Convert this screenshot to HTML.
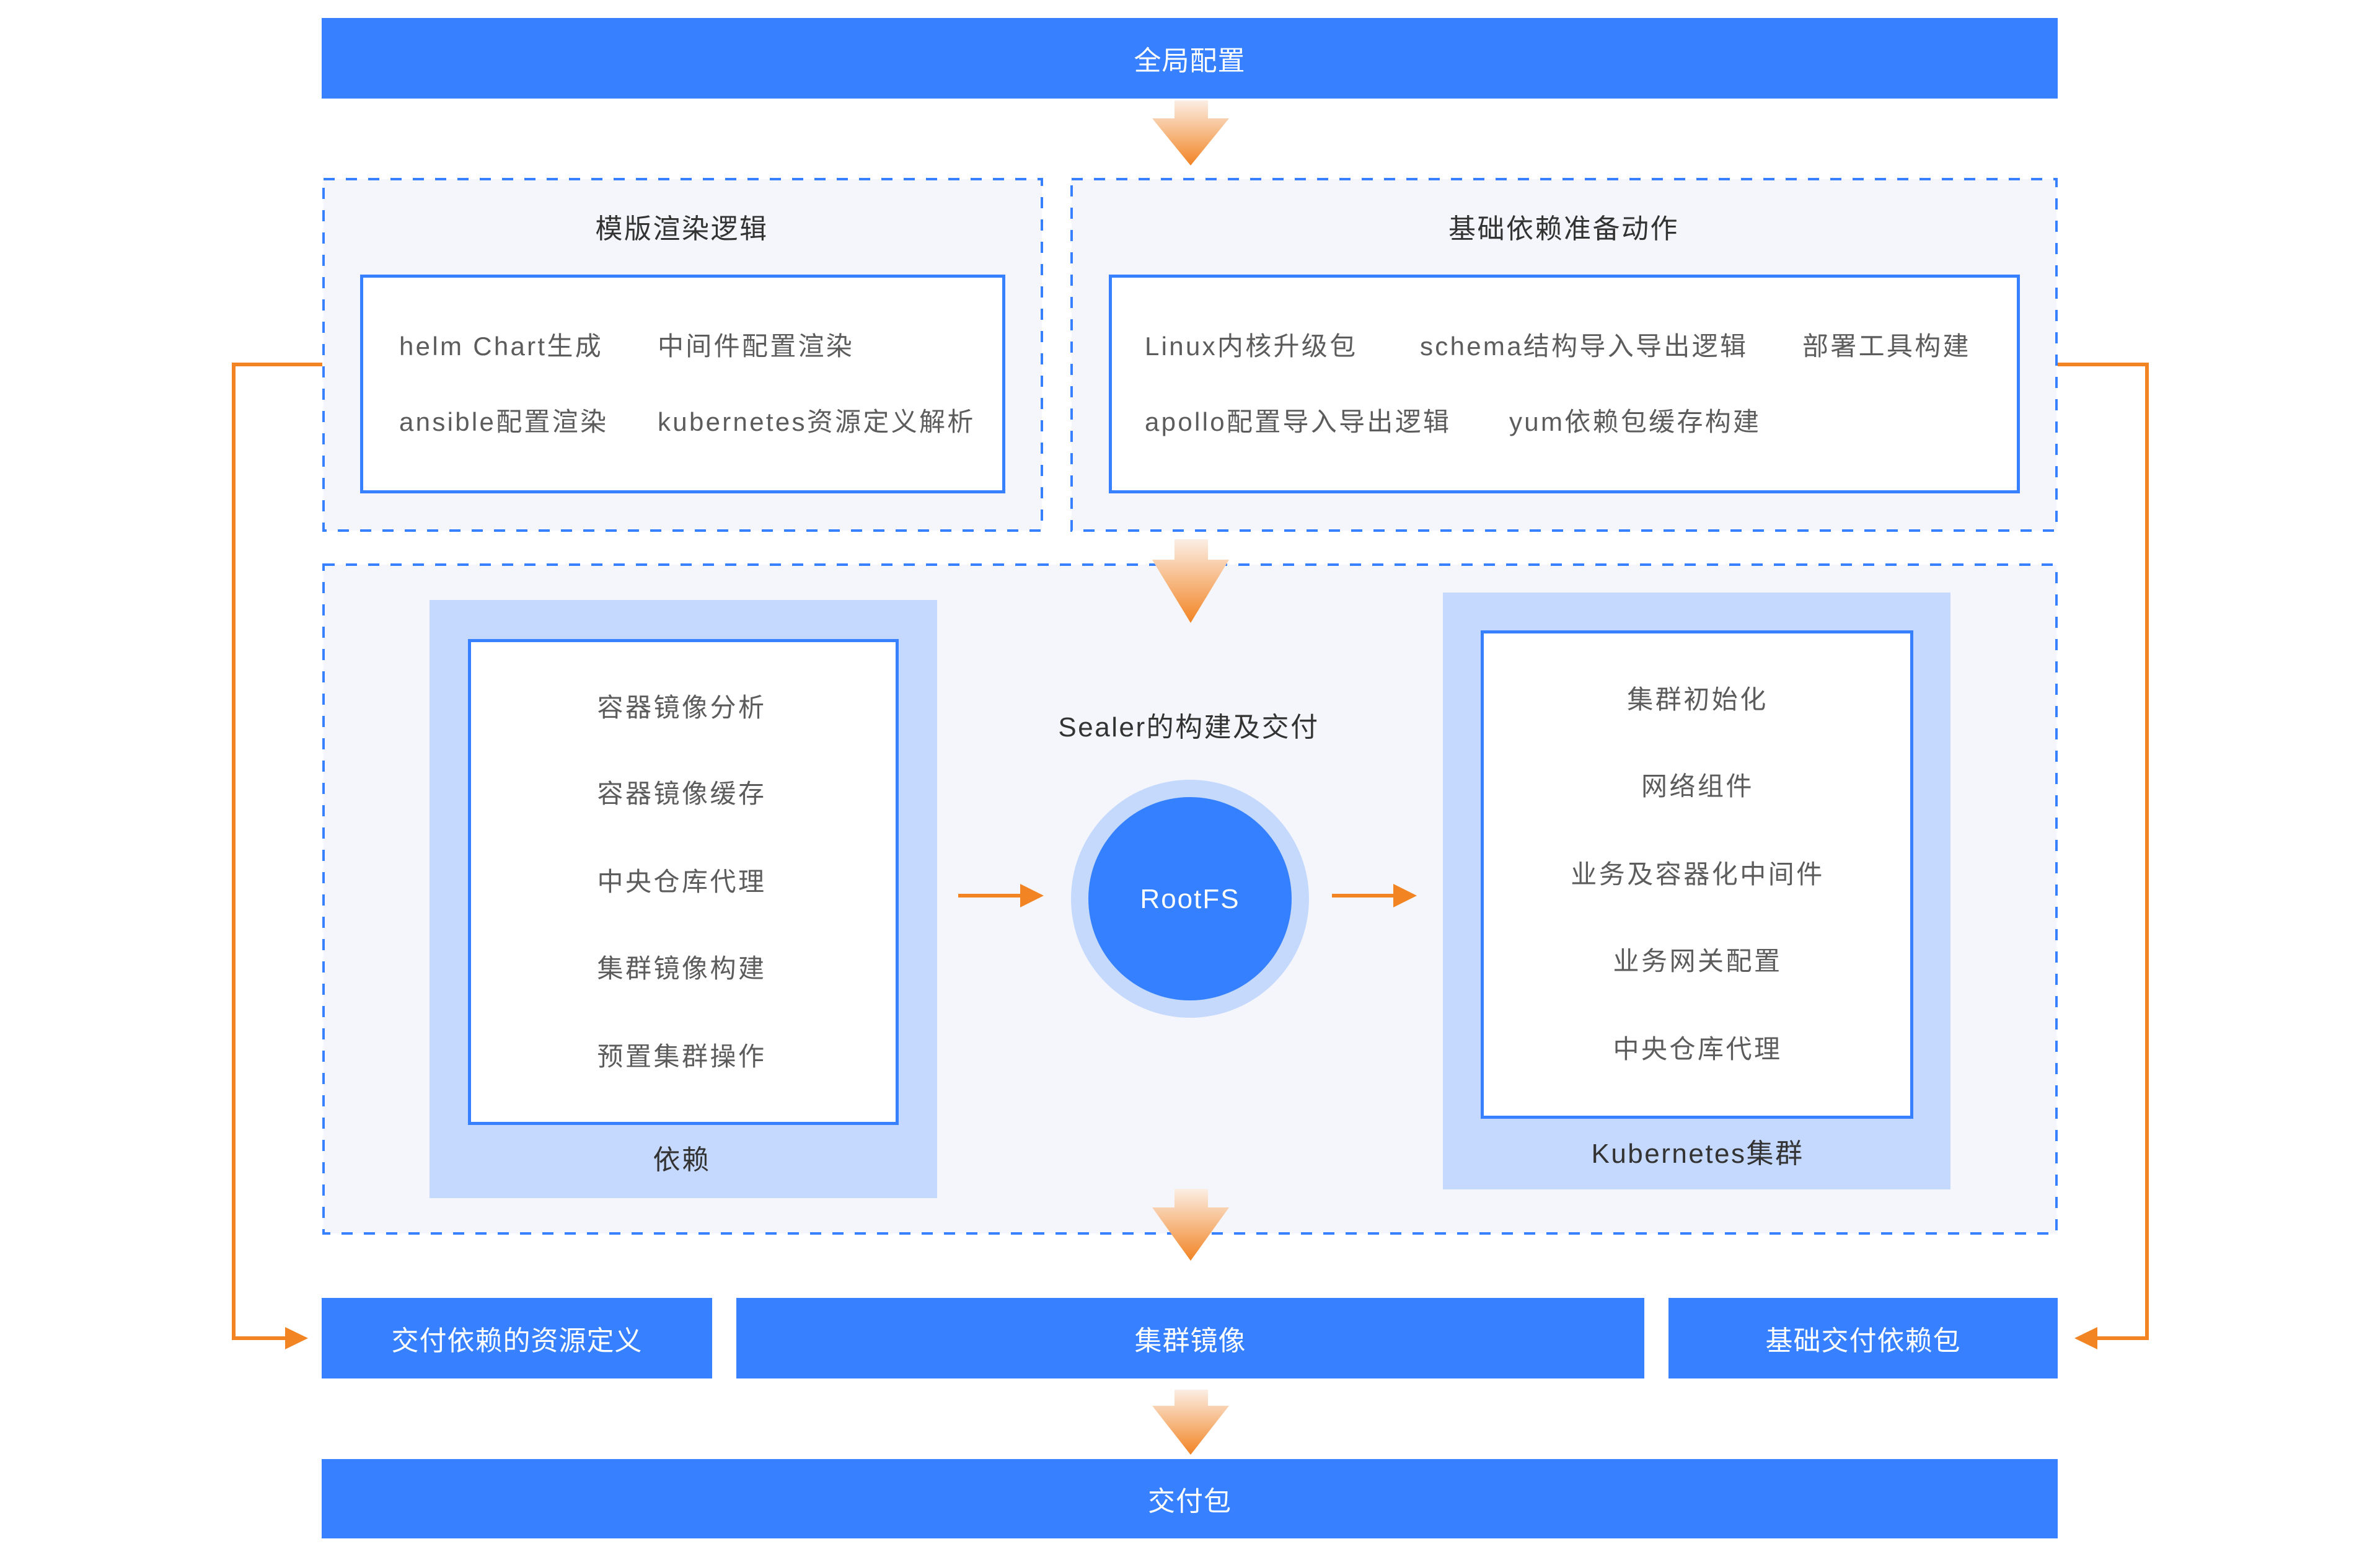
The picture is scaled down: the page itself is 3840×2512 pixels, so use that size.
<!DOCTYPE html>
<html><head><meta charset="utf-8">
<style>
*{margin:0;padding:0;box-sizing:border-box}
body{width:3840px;height:2512px;background:#fff;position:relative;overflow:hidden;font-family:"Liberation Sans","Noto Sans CJK SC",sans-serif}
.a{position:absolute}
.bar{position:absolute;background:#3780ff;color:#fff;font-size:44px;display:flex;align-items:center;justify-content:center;letter-spacing:1px}
.wb{position:absolute;background:#fff;border:5px solid #3780ff}
.lb{position:absolute;background:#c5d8fd}
.t{position:absolute;font-size:42px;color:#5c5c5c;white-space:nowrap;line-height:1;transform:translateY(-50%);letter-spacing:3.3px}
.c{position:absolute;font-size:42px;color:#5c5c5c;white-space:nowrap;line-height:1;transform:translate(-50%,-50%);letter-spacing:3.5px}
.h{color:#333;font-size:44px;letter-spacing:2.5px}
</style></head><body>
<div class="bar" style="left:519px;top:29px;width:2801px;height:130px">全局配置</div>

<svg class="a" style="left:0;top:0" width="3840" height="2512">
<g fill="#f4f6fb" stroke="#3780ff" stroke-width="4" stroke-dasharray="18 18">
<rect x="522" y="289" width="1159" height="567"/>
<rect x="1729" y="289" width="1589" height="567"/>
<rect x="522" y="911" width="2796" height="1079"/>
</g>
</svg>

<div class="c h" style="left:1100px;top:370px">模版渲染逻辑</div>
<div class="wb" style="left:581px;top:443px;width:1041px;height:353px"></div>
<div class="t" style="left:644px;top:559px">helm Chart生成</div>
<div class="t" style="left:1061px;top:559px">中间件配置渲染</div>
<div class="t" style="left:644px;top:681px">ansible配置渲染</div>
<div class="t" style="left:1061px;top:681px">kubernetes资源定义解析</div>

<div class="c h" style="left:2523px;top:370px">基础依赖准备动作</div>
<div class="wb" style="left:1789px;top:443px;width:1470px;height:353px"></div>
<div class="t" style="left:1847px;top:559px">Linux内核升级包</div>
<div class="t" style="left:2291px;top:559px">schema结构导入导出逻辑</div>
<div class="t" style="left:2908px;top:559px">部署工具构建</div>
<div class="t" style="left:1847px;top:681px">apollo配置导入导出逻辑</div>
<div class="t" style="left:2435px;top:681px">yum依赖包缓存构建</div>

<div class="lb" style="left:693px;top:968px;width:819px;height:965px"></div>
<div class="wb" style="left:755px;top:1031px;width:695px;height:784px"></div>
<div class="c" style="left:1100px;top:1142px">容器镜像分析</div>
<div class="c" style="left:1100px;top:1281px">容器镜像缓存</div>
<div class="c" style="left:1100px;top:1423px">中央仓库代理</div>
<div class="c" style="left:1100px;top:1563px">集群镜像构建</div>
<div class="c" style="left:1100px;top:1705px">预置集群操作</div>
<div class="c h" style="left:1100px;top:1872px">依赖</div>

<div class="lb" style="left:2328px;top:956px;width:819px;height:963px"></div>
<div class="wb" style="left:2389px;top:1017px;width:698px;height:788px"></div>
<div class="c" style="left:2739px;top:1129px">集群初始化</div>
<div class="c" style="left:2739px;top:1269px">网络组件</div>
<div class="c" style="left:2739px;top:1411px">业务及容器化中间件</div>
<div class="c" style="left:2739px;top:1551px">业务网关配置</div>
<div class="c" style="left:2739px;top:1693px">中央仓库代理</div>
<div class="c h" style="left:2739px;top:1862px">Kubernetes集群</div>

<div class="c h" style="left:1918px;top:1174px">Sealer的构建及交付</div>
<div class="a" style="left:1728px;top:1258px;width:384px;height:384px;border-radius:50%;background:#c5d9fc"></div>
<div class="a" style="left:1756px;top:1286px;width:328px;height:328px;border-radius:50%;background:#3580ff"></div>
<div class="c" style="left:1920px;top:1451px;color:#fff;font-size:44px;letter-spacing:2px">RootFS</div>

<div class="bar" style="left:519px;top:2094px;width:630px;height:130px">交付依赖的资源定义</div>
<div class="bar" style="left:1188px;top:2094px;width:1465px;height:130px">集群镜像</div>
<div class="bar" style="left:2692px;top:2094px;width:628px;height:130px">基础交付依赖包</div>
<div class="bar" style="left:519px;top:2354px;width:2801px;height:128px">交付包</div>

<svg class="a" style="left:0;top:0" width="3840" height="2512">
<defs><linearGradient id="g" x1="0" y1="0" x2="0" y2="1">
<stop offset="0" stop-color="#fbeee4"/><stop offset="1" stop-color="#f28424"/></linearGradient></defs>
<g fill="url(#g)">
<polygon points="1895,162 1949,162 1949,191 1983,191 1921,267 1859,191 1895,191"/>
<polygon points="1895,870 1949,870 1949,903 1983,903 1921,1005 1859,903 1895,903"/>
<polygon points="1895,1918 1949,1918 1949,1948 1983,1948 1921,2034 1859,1948 1895,1948"/>
<polygon points="1895,2242 1949,2242 1949,2268 1983,2268 1921,2347 1859,2268 1895,2268"/>
</g>
<g stroke="#f28424" stroke-width="6" fill="none">
<polyline points="520,588 377,588 377,2159 462,2159"/>
<polyline points="3320,588 3464,588 3464,2159 3382,2159"/>
<line x1="1546" y1="1445" x2="1650" y2="1445"/>
<line x1="2149" y1="1445" x2="2252" y2="1445"/>
</g>
<g fill="#f28424">
<polygon points="460,2141 497,2159 460,2177"/>
<polygon points="3384,2141 3347,2159 3384,2177"/>
<polygon points="1646,1426 1684,1445 1646,1464"/>
<polygon points="2248,1426 2286,1445 2248,1464"/>
</g>
</svg>
</body></html>
